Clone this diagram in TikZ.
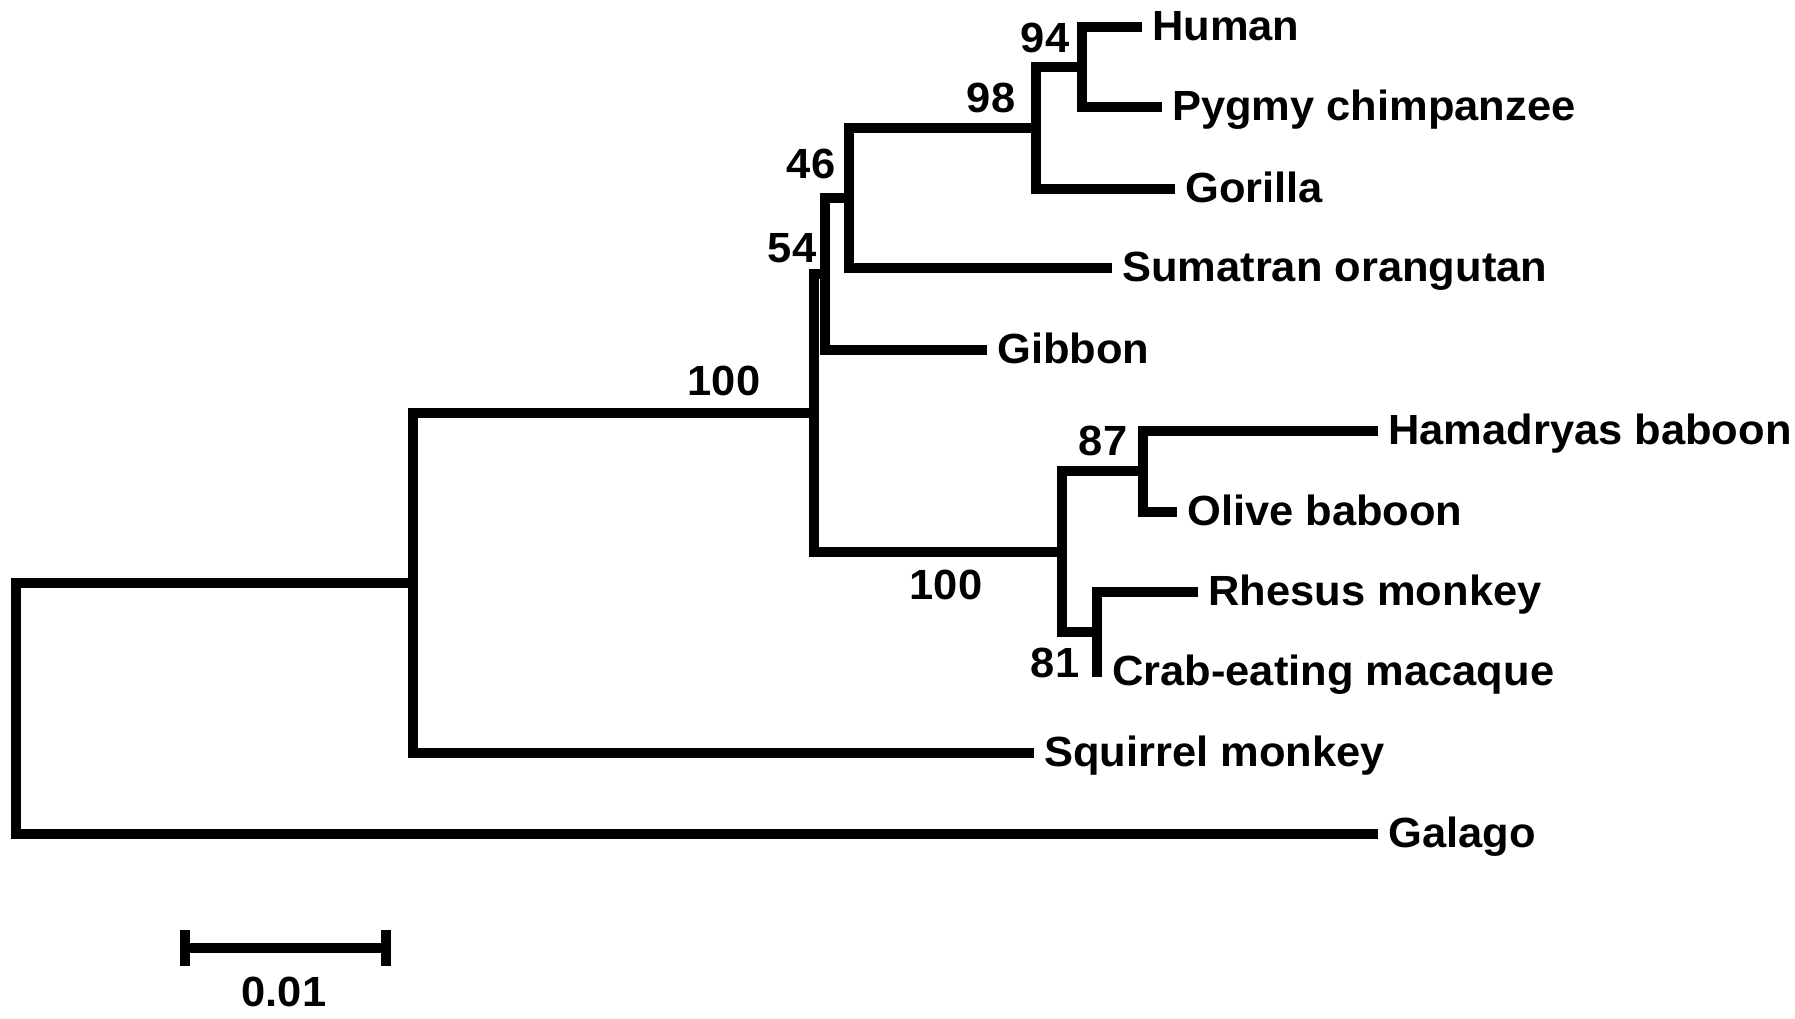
\documentclass[tikz,border=0pt]{standalone}
\usepackage{fontspec}
\setmainfont{Liberation Sans}[FakeStretch=1.03]
\begin{document}
\begin{tikzpicture}[x=0.01cm,y=-0.01cm,
  branch/.style={line width=0.095cm, line join=miter, line cap=butt},
  leaf/.style={anchor=base west, inner sep=0pt, xshift=0.095cm, yshift=-0.135cm, font=\fontsize{12}{14}\selectfont\bfseries},
  boot/.style={anchor=base, inner sep=0pt, font=\fontsize{12}{14}\selectfont\bfseries}]
\useasboundingbox (0,0) rectangle (1795,1018);
% internal nodes
\coordinate (root) at (16,708);
\coordinate (n2) at (413,583);
\coordinate (n100a) at (814,413);
\coordinate (n54) at (825,274);
\coordinate (n46) at (849,198);
\coordinate (n98) at (1036,128);
\coordinate (n94) at (1082,67);
\coordinate (owm) at (1062,552);
\coordinate (n87) at (1143,471);
\coordinate (n81) at (1097,632);
% tips
\coordinate (tHuman) at (1142,27);
\coordinate (tPygmy) at (1162,107);
\coordinate (tGorilla) at (1175,189);
\coordinate (tSumatran) at (1112,268);
\coordinate (tGibbon) at (987,350);
\coordinate (tHama) at (1378,431);
\coordinate (tOlive) at (1177,512);
\coordinate (tRhesus) at (1198,592);
\coordinate (tCrab) at (1102,672);
\coordinate (tSquirrel) at (1034,753);
\coordinate (tGalago) at (1378,834);
% branches
\draw[branch] (n2) -| (root) |- (tGalago);
\draw[branch] (n100a) -| (n2) |- (tSquirrel);
\draw[branch] (n54) -| (n100a) |- (owm);
\draw[branch] (n46) -| (n54) |- (tGibbon);
\draw[branch] (n98) -| (n46) |- (tSumatran);
\draw[branch] (n94) -| (n98) |- (tGorilla);
\draw[branch] (tHuman) -| (n94) |- (tPygmy);
\draw[branch] (n87) -| (owm) |- (n81);
\draw[branch] (tHama) -| (n87) |- (tOlive);
\draw[branch] (tRhesus) -| (n81) |- (tCrab);
% leaf labels
\node[leaf] (lHuman) at (tHuman) {Human};
\node[leaf] (lPygmy) at (tPygmy) {Pygmy chimpanzee};
\node[leaf] (lGorilla) at (tGorilla) {Gorilla};
\node[leaf] (lSumatran) at (tSumatran) {Sumatran orangutan};
\node[leaf] (lGibbon) at (tGibbon) {Gibbon};
\node[leaf] (lHama) at (tHama) {Hamadryas baboon};
\node[leaf] (lOlive) at (tOlive) {Olive baboon};
\node[leaf] (lRhesus) at (tRhesus) {Rhesus monkey};
\node[leaf] (lCrab) at (tCrab) {Crab-eating macaque};
\node[leaf] (lSquirrel) at (tSquirrel) {Squirrel monkey};
\node[leaf] (lGalago) at (tGalago) {Galago};
% bootstrap values
\node[boot] (b94) at (1045,52) {94};
\node[boot] (b98) at (991,112) {98};
\node[boot] (b46) at (811,178) {46};
\node[boot] (b54) at (792,262) {54};
\node[boot] (b100a) at (724,395) {100};
\node[boot] (b100b) at (946,599) {100};
\node[boot] (b87) at (1103,455) {87};
\node[boot] (b81) at (1055,677) {81};
% scale bar
\coordinate (sbL) at (185,948);
\coordinate (sbR) at (386,948);
\coordinate (sbLt) at (185,930);
\coordinate (sbLb) at (185,966);
\coordinate (sbRt) at (386,930);
\coordinate (sbRb) at (386,966);
\draw[branch] (sbL) -- (sbR);
\draw[branch] (sbLt) -- (sbLb);
\draw[branch] (sbRt) -- (sbRb);
\node[boot] (scale) at (284,1006) {0.01};
\end{tikzpicture}
\end{document}
